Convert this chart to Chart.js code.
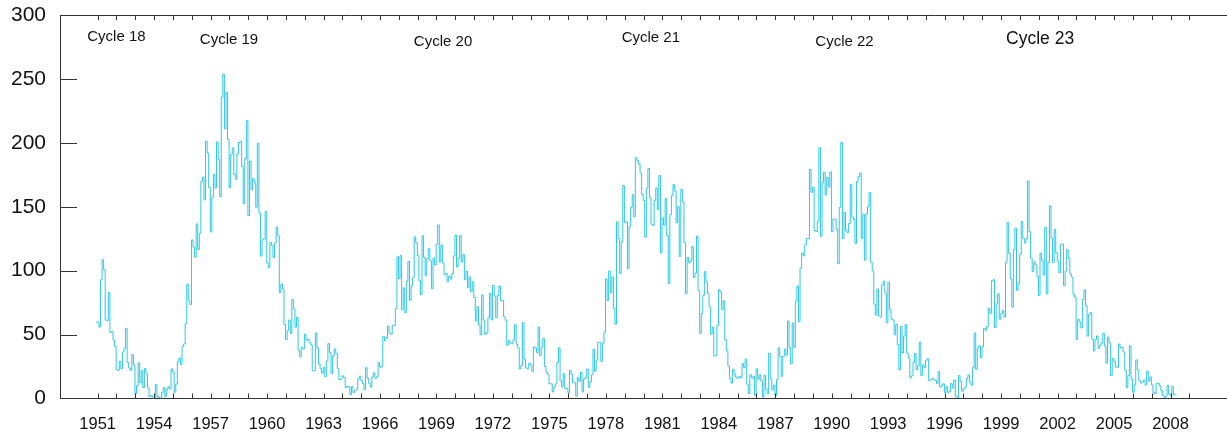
<!DOCTYPE html>
<html>
<head>
<meta charset="utf-8">
<title>Monthly sunspot number 1951-2008</title>
<script src="https://cdn.jsdelivr.net/npm/chart.js@4.4.1/dist/chart.umd.min.js"></script>
<style>
  html, body { margin: 0; padding: 0; background: #fff; }
  #sunspotChart { display: block; }
</style>
</head>
<body>
<canvas id="sunspotChart" width="1227" height="437"></canvas>
<script>
// Monthly mean sunspot number, one row per year (Jan..Dec)
const ssn1950s = [
  59.9, 59.9, 55.9, 92.9, 108.5, 100.6, 61.5, 61.0, 83.1, 51.6, 52.4, 45.8,   // 1951
  40.7, 22.7, 22.0, 29.1, 23.4, 36.4, 39.3, 54.9, 28.2, 23.8, 22.1, 34.3,     // 1952
  26.5, 3.9, 10.0, 27.8, 12.5, 21.8, 8.6, 23.5, 19.3, 8.2, 1.6, 2.5,          // 1953
  0.2, 0.5, 10.9, 1.8, 0.8, 0.2, 4.8, 8.4, 1.5, 7.0, 9.2, 7.6,                // 1954
  23.1, 20.8, 4.9, 11.3, 28.9, 31.7, 26.7, 40.7, 42.7, 58.5, 89.2, 76.9,      // 1955
  73.6, 124.0, 118.4, 110.7, 136.6, 116.6, 129.1, 169.6, 173.2, 155.3, 201.3, 192.1, // 1956
  165.0, 130.2, 157.4, 175.2, 164.6, 200.7, 187.2, 158.0, 235.8, 253.8, 210.9, 239.4, // 1957
  202.5, 164.9, 190.7, 196.0, 175.3, 171.5, 191.4, 200.2, 201.2, 181.5, 152.3, 187.6, // 1958
  217.4, 143.1, 185.7, 163.3, 172.0, 168.7, 149.6, 199.6, 145.2, 111.4, 124.0, 125.0  // 1959
];
const ssn1960s = [
  146.3, 106.0, 102.2, 122.0, 119.6, 110.2, 121.7, 134.1, 127.2, 82.8, 89.6, 85.6,   // 1960
  57.9, 46.1, 53.0, 61.4, 51.0, 77.4, 70.2, 55.8, 63.6, 37.7, 32.6, 39.9,     // 1961
  38.7, 50.3, 45.6, 46.4, 43.7, 42.0, 21.8, 21.8, 51.3, 39.5, 26.9, 23.2,     // 1962
  19.8, 24.4, 17.1, 29.3, 43.0, 35.9, 19.6, 33.2, 38.8, 35.3, 23.4, 14.9,     // 1963
  15.3, 17.7, 16.5, 8.6, 9.5, 9.1, 3.1, 9.3, 4.7, 6.1, 7.4, 15.1,             // 1964
  17.5, 14.2, 11.7, 6.8, 24.1, 15.9, 11.9, 8.9, 16.8, 20.1, 15.8, 17.0,       // 1965
  28.2, 24.4, 25.3, 48.7, 45.3, 47.7, 56.7, 51.2, 50.2, 57.2, 57.2, 70.4,     // 1966
  110.9, 93.6, 111.8, 69.5, 86.5, 67.3, 91.5, 107.2, 76.8, 88.2, 94.3, 126.4, // 1967
  121.8, 111.9, 92.2, 81.2, 127.2, 110.3, 96.1, 109.3, 117.2, 107.7, 86.0, 109.8, // 1968
  104.4, 120.5, 135.8, 106.8, 120.0, 106.0, 96.8, 98.0, 91.3, 95.7, 93.5, 97.9    // 1969
];
const ssn1970s = [
  111.5, 127.8, 102.9, 109.5, 127.5, 106.8, 112.5, 93.0, 99.5, 86.6, 95.2, 83.5,  // 1970
  91.3, 79.0, 60.7, 71.8, 57.5, 49.8, 81.0, 61.4, 50.2, 51.7, 63.2, 82.2,     // 1971
  61.5, 88.4, 80.1, 63.2, 80.5, 88.0, 76.5, 76.8, 64.0, 61.3, 41.6, 45.3,     // 1972
  43.4, 42.9, 46.0, 57.7, 42.4, 39.5, 23.1, 25.6, 59.3, 30.7, 23.9, 23.3,     // 1973
  27.6, 26.0, 21.3, 40.3, 39.5, 36.0, 55.8, 33.6, 40.2, 47.1, 25.0, 20.5,     // 1974
  18.9, 11.5, 11.5, 5.1, 9.0, 11.4, 28.2, 39.7, 13.9, 9.1, 19.4, 7.8,         // 1975
  8.1, 4.3, 21.9, 18.8, 12.4, 12.2, 1.9, 16.4, 13.5, 20.6, 5.2, 15.3,         // 1976
  16.4, 23.1, 8.7, 12.9, 18.6, 38.5, 21.4, 30.1, 44.0, 43.8, 29.1, 43.2,      // 1977
  51.9, 93.6, 76.5, 99.7, 82.7, 95.1, 70.4, 58.1, 138.2, 125.1, 97.9, 122.7,  // 1978
  166.6, 137.5, 138.0, 101.5, 134.4, 149.5, 159.4, 142.2, 188.4, 186.2, 183.3, 176.3 // 1979
];
const ssn1980s = [
  159.6, 155.0, 126.2, 164.1, 179.9, 157.3, 136.3, 135.4, 155.0, 164.7, 147.9, 174.4, // 1980
  114.0, 141.3, 135.5, 156.4, 127.5, 90.0, 143.8, 158.7, 167.3, 162.4, 137.5, 150.1,  // 1981
  111.2, 163.6, 153.8, 122.0, 82.2, 110.4, 106.1, 107.6, 118.8, 94.7, 98.1, 127.0,    // 1982
  84.3, 51.0, 66.5, 80.7, 99.2, 91.1, 82.2, 71.8, 50.3, 55.8, 33.3, 33.4,     // 1983
  57.0, 85.1, 83.5, 69.7, 76.4, 46.1, 37.4, 25.5, 15.7, 12.0, 22.8, 18.7,     // 1984
  16.5, 15.9, 17.2, 16.2, 27.5, 24.2, 30.7, 11.1, 3.9, 18.6, 16.2, 17.3,      // 1985
  2.5, 23.2, 15.1, 18.5, 13.7, 1.1, 18.1, 7.4, 3.8, 35.4, 15.2, 6.8,          // 1986
  10.4, 2.4, 14.7, 39.6, 33.0, 17.4, 33.0, 38.7, 33.9, 60.6, 39.9, 27.1,      // 1987
  59.0, 40.0, 76.2, 88.0, 60.1, 101.8, 113.8, 111.6, 120.1, 125.1, 125.1, 179.2,  // 1988
  161.3, 165.1, 131.4, 130.6, 138.5, 196.2, 126.9, 168.9, 176.7, 159.4, 173.0, 165.5 // 1989
];
const ssn1990s = [
  177.3, 130.5, 140.3, 140.3, 132.2, 105.4, 149.4, 200.3, 125.2, 145.5, 131.4, 129.7, // 1990
  136.9, 167.5, 141.9, 140.0, 121.3, 169.7, 173.7, 176.3, 125.3, 144.1, 108.2, 144.4, // 1991
  150.0, 161.1, 106.7, 99.8, 73.8, 65.2, 85.7, 64.5, 63.9, 88.7, 91.8, 82.6,  // 1992
  59.3, 91.0, 69.8, 62.2, 61.3, 49.8, 57.9, 42.2, 22.4, 56.4, 35.6, 48.9,     // 1993
  57.8, 35.5, 31.7, 16.1, 17.8, 28.0, 35.1, 22.5, 25.7, 44.0, 18.0, 26.2,     // 1994
  24.2, 29.9, 31.1, 14.0, 14.5, 15.6, 14.5, 14.3, 11.8, 21.1, 9.0, 10.0,      // 1995
  11.5, 4.4, 9.2, 4.8, 5.5, 11.8, 8.2, 14.4, 1.6, 0.9, 17.9, 13.3,            // 1996
  5.7, 7.6, 8.7, 15.5, 18.5, 12.7, 10.4, 24.4, 51.3, 22.8, 39.0, 41.2,        // 1997
  31.9, 40.3, 54.8, 53.4, 56.3, 70.7, 66.6, 92.2, 92.9, 55.5, 74.0, 81.9,     // 1998
  62.0, 66.3, 68.8, 63.7, 106.4, 137.7, 113.5, 93.7, 71.5, 116.7, 133.2, 84.6 // 1999
];
const ssn2000s = [
  90.1, 112.9, 138.5, 125.5, 121.6, 124.9, 170.1, 130.5, 109.7, 99.4, 106.8, 104.4, // 2000
  95.6, 80.6, 113.5, 107.7, 96.6, 134.0, 81.8, 106.4, 150.7, 125.5, 106.5, 132.2,   // 2001
  114.1, 107.4, 98.4, 120.7, 120.8, 88.3, 99.6, 116.4, 109.6, 97.5, 95.0, 81.6,     // 2002
  79.5, 46.2, 61.8, 60.0, 55.2, 77.4, 85.0, 72.7, 48.8, 65.6, 67.2, 46.5,     // 2003
  37.2, 46.0, 48.9, 39.3, 41.5, 43.2, 51.1, 40.9, 27.7, 48.0, 43.5, 17.9,     // 2004
  31.3, 29.2, 24.5, 24.4, 42.6, 39.6, 39.9, 36.4, 22.1, 8.5, 18.0, 41.2,      // 2005
  15.3, 4.9, 10.6, 30.2, 22.3, 13.9, 12.2, 12.9, 14.4, 10.5, 21.4, 13.6,      // 2006
  16.9, 10.6, 4.8, 3.7, 11.7, 12.0, 10.0, 6.2, 2.4, 0.9, 1.7, 10.1,           // 2007
  3.4, 2.1, 9.3, 2.9, 2.9, 3.1                                                // 2008 (Jan-Jun)
];

// labelled years on the bottom axis, and the cycle names along the top
const labelYears = [1951, 1954, 1957, 1960, 1963, 1966, 1969, 1972, 1975, 1978,
                    1981, 1984, 1987, 1990, 1993, 1996, 1999, 2002, 2005, 2008];
const cycleNames = ['Cycle 18', 'Cycle 19', 'Cycle 20', 'Cycle 21', 'Cycle 22', 'Cycle 23'];

const monthly = [].concat(ssn1950s, ssn1960s, ssn1970s, ssn1980s, ssn1990s, ssn2000s);
const firstMonthX = 1950.9;
const points = monthly.map((v, i) => ({ x: firstMonthX + i / 12, y: v }));

// where each cycle name sits, in axis units (year, sunspot number)
const cycleAnchors = [
  [1952.0, 280.0], [1957.98, 277.4], [1969.35, 276.1],
  [1980.39, 278.8], [1990.68, 275.7], [2001.07, 277.6]
];

const axisColor = '#333';
const textColor = '#111';
const fontFamily = '"Liberation Sans", Arial, Helvetica, sans-serif';

Chart.defaults.font.family = fontFamily;
Chart.defaults.color = textColor;

// top border, inward tick marks and the cycle captions
const frameAndLabels = {
  id: 'frameAndLabels',
  afterDraw(chart) {
    const { ctx, chartArea: a, scales: { x, y } } = chart;
    ctx.save();
    ctx.strokeStyle = axisColor;
    ctx.lineWidth = 1;
    ctx.beginPath();
    ctx.moveTo(a.left, Math.round(a.top) + 0.5);
    ctx.lineTo(a.right, Math.round(a.top) + 0.5);
    x.ticks.forEach(t => {
      const px = Math.round(x.getPixelForValue(t.value)) + 0.5;
      ctx.moveTo(px, a.bottom);
      ctx.lineTo(px, a.bottom - 5);
      ctx.moveTo(px, a.top);
      ctx.lineTo(px, a.top + 5);
    });
    y.ticks.forEach(t => {
      if (t.value <= 0 || t.value >= 300) return;
      const py = Math.round(y.getPixelForValue(t.value)) + 0.5;
      ctx.moveTo(a.left, py);
      ctx.lineTo(a.left + 17, py);
    });
    ctx.stroke();

    ctx.fillStyle = textColor;
    ctx.textAlign = 'center';
    ctx.textBaseline = 'alphabetic';
    cycleNames.forEach((name, i) => {
      const [cx, cy] = cycleAnchors[i];
      ctx.font = (i === cycleNames.length - 1 ? '17.5px ' : '15px ') + fontFamily;
      ctx.fillText(name, x.getPixelForValue(cx), y.getPixelForValue(cy));
    });
    ctx.restore();
  }
};

new Chart(document.getElementById('sunspotChart'), {
  type: 'line',
  data: {
    datasets: [{
      label: 'Sunspot number',
      data: points,
      borderColor: 'rgb(46, 200, 230)',
      borderWidth: 1,
      pointRadius: 0,
      stepped: true,
      tension: 0,
      fill: false
    }]
  },
  options: {
    responsive: false,
    animation: false,
    devicePixelRatio: 1,
    layout: { padding: { top: 15, right: 0, left: 0, bottom: 0 } },
    plugins: {
      legend: { display: false },
      tooltip: { enabled: false }
    },
    scales: {
      x: {
        type: 'linear',
        min: 1949,
        max: 2011,
        afterBuildTicks: scale => {
          const ticks = [];
          for (let yr = 1951; yr <= 2009; yr++) ticks.push({ value: yr });
          scale.ticks = ticks;
        },
        afterFit: scale => {
          scale.height = 38.5;
          scale.paddingLeft = 0;
          scale.paddingRight = 0;
        },
        ticks: {
          autoSkip: false,
          maxRotation: 0,
          minRotation: 0,
          padding: 16,
          font: { size: 16.5 },
          callback: v => labelYears.includes(v) ? String(v) : ''
        },
        grid: { display: false, drawTicks: false },
        border: { display: true, color: axisColor, width: 1 }
      },
      y: {
        min: 0,
        max: 300,
        afterFit: scale => {
          scale.width = 60;
          scale.paddingTop = 0;
          scale.paddingBottom = 0;
        },
        ticks: {
          stepSize: 50,
          padding: 14,
          font: { size: 21 }
        },
        grid: { display: false, drawTicks: false },
        border: { display: true, color: axisColor, width: 1 }
      }
    }
  },
  plugins: [frameAndLabels]
});
</script>
</body>
</html>
